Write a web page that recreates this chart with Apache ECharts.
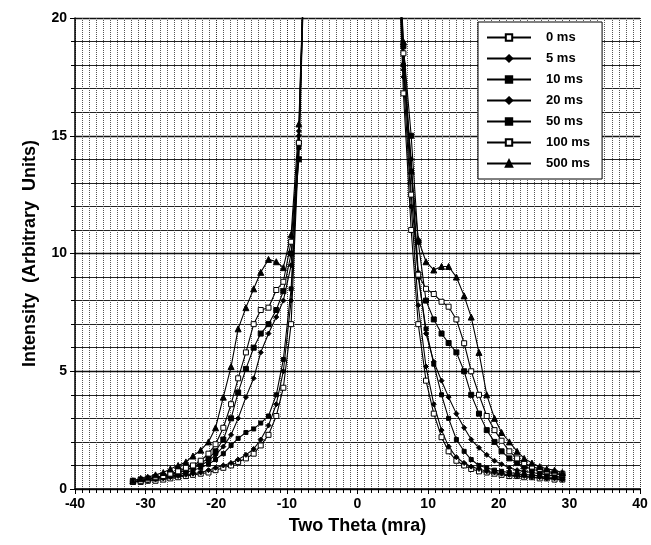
<!DOCTYPE html>
<html><head><meta charset="utf-8">
<script src="https://cdn.jsdelivr.net/npm/echarts@6/dist/echarts.min.js"></script>
<style>html,body{margin:0;padding:0;background:#fff}#c{width:651px;height:545px}</style>
</head><body><div id="c"></div>
<script>
// Two Theta positions (mra) of the measured points, left and right of the beam
const xLeft  = [-31.8,-30.7,-29.7,-28.6,-27.5,-26.5,-25.4,-24.3,-23.3,-22.2,-21.1,-20.1,-19.0,-17.9,-16.9,-15.8,-14.7,-13.7,-12.6,-11.5,-10.5,-9.4,-8.3,-7.2];
const xRight = [5.4,6.5,7.6,8.6,9.7,10.8,11.9,12.9,14.0,15.1,16.1,17.2,18.3,19.4,20.4,21.5,22.6,23.6,24.7,25.8,26.8,27.9,29.0];

const seriesNames = ['0 ms','5 ms','10 ms','20 ms','50 ms','100 ms','500 ms'];

// Intensities on the left side (matching xLeft)
const left0   = [0.3,0.3,0.35,0.35,0.4,0.45,0.5,0.55,0.6,0.65,0.7,0.8,0.9,1.0,1.15,1.3,1.5,1.85,2.3,3.1,4.3,7.0,14.7,26];
const left5   = [0.3,0.35,0.35,0.4,0.45,0.5,0.55,0.6,0.65,0.7,0.8,0.9,1.0,1.1,1.25,1.45,1.7,2.1,2.7,3.6,5.0,8.0,15.2,26];
const left10  = [0.3,0.35,0.4,0.45,0.5,0.55,0.6,0.7,0.8,0.9,1.05,1.25,1.5,1.85,2.15,2.4,2.55,2.8,3.1,4.0,5.5,8.5,14.5,26];
const left20  = [0.3,0.35,0.4,0.45,0.5,0.6,0.7,0.8,0.9,1.0,1.2,1.45,1.8,2.3,3.0,3.9,4.7,5.8,6.6,7.3,8.0,9.5,15.0,26];
const left50  = [0.35,0.4,0.45,0.5,0.55,0.6,0.7,0.8,0.95,1.1,1.3,1.6,2.1,3.0,4.1,5.1,6.0,6.6,7.0,7.6,8.4,10.0,14.0,26];
const left100 = [0.3,0.35,0.4,0.5,0.55,0.65,0.75,0.9,1.0,1.2,1.5,1.9,2.6,3.6,4.7,5.8,7.0,7.6,7.7,8.45,8.8,10.5,14.7,26];
const left500 = [0.35,0.45,0.5,0.6,0.7,0.85,1.0,1.15,1.4,1.65,2.0,2.6,3.9,5.2,6.8,7.7,8.5,9.2,9.75,9.65,9.4,10.8,15.5,26];

// Intensities on the right side (matching xRight)
const right0   = [26,16.8,11.0,7.0,4.6,3.2,2.2,1.6,1.2,1.0,0.85,0.75,0.7,0.65,0.6,0.55,0.55,0.5,0.5,0.45,0.45,0.4,0.4];
const right5   = [26,17.5,12.0,7.8,5.2,3.6,2.5,1.8,1.35,1.1,0.95,0.85,0.75,0.7,0.65,0.6,0.55,0.55,0.5,0.5,0.45,0.45,0.4];
const right10  = [26,18.0,13.5,9.0,6.8,5.3,4.0,3.0,2.1,1.6,1.25,1.0,0.9,0.8,0.75,0.7,0.65,0.6,0.6,0.55,0.5,0.5,0.45];
const right20  = [26,17.8,14.0,9.2,6.6,5.4,4.6,3.9,3.2,2.6,2.1,1.75,1.45,1.2,1.05,0.9,0.8,0.75,0.7,0.65,0.6,0.55,0.5];
const right50  = [26,18.8,15.0,10.5,8.0,7.2,6.6,6.2,5.8,5.0,4.0,3.2,2.5,2.0,1.6,1.3,1.1,0.95,0.85,0.75,0.7,0.65,0.6];
const right100 = [26,18.5,12.5,9.1,8.5,8.28,7.95,7.74,7.2,6.19,5.0,4.0,3.1,2.5,2.05,1.6,1.3,1.1,0.95,0.85,0.75,0.7,0.65];
const right500 = [26,19.0,13.5,10.6,9.65,9.3,9.45,9.45,9.0,8.2,7.3,5.8,4.0,3.0,2.4,2.0,1.6,1.3,1.1,0.95,0.85,0.8,0.7];

const leftData  = [left0,left5,left10,left20,left50,left100,left500];
const rightData = [right0,right5,right10,right20,right50,right100,right500];

const symbols = [
  {symbol:'rect', size:5, fill:'#fff'},
  {symbol:'diamond', size:5, fill:'#000'},
  {symbol:'rect', size:4, fill:'#000'},
  {symbol:'diamond', size:5, fill:'#000'},
  {symbol:'rect', size:5, fill:'#000'},
  {symbol:'rect', size:5, fill:'#fff'},
  {symbol:'triangle', size:6, fill:'#000'}
];

const FONT = 'Liberation Sans, Arial, sans-serif';

const series = seriesNames.map((name, k) => {
  const data = xLeft.map((x, i) => [x, leftData[k][i]])
    .concat([[0, '-']])
    .concat(xRight.map((x, i) => [x, rightData[k][i]]));
  return {
    name, type:'line', data,
    symbol: symbols[k].symbol, symbolSize: symbols[k].size,
    showSymbol:true, connectNulls:false, clip:true,
    lineStyle:{color:'#000', width:1.1},
    itemStyle:{color:symbols[k].fill, borderColor:'#000', borderWidth:1},
    emphasis:{disabled:true}, animation:false
  };
});

const chart = echarts.init(document.getElementById('c'), null, {renderer:'canvas'});
chart.setOption({
  animation:false,
  backgroundColor:'#fff',
  grid:{left:75, right:11, top:18, bottom:56, containLabel:false},
  xAxis:{
    type:'value', min:-40, max:40, interval:10,
    name:'Two Theta (mra)', nameLocation:'middle', nameGap:28,
    nameTextStyle:{fontFamily:FONT, fontWeight:'bold', fontSize:18, color:'#000'},
    axisLine:{show:true, onZero:false, lineStyle:{color:'#000', width:1.5}},
    axisTick:{show:true, length:5, lineStyle:{color:'#000'}},
    minorTick:{show:true, splitNumber:10, length:4, lineStyle:{color:'#000'}},
    axisLabel:{fontFamily:FONT, fontWeight:'bold', fontSize:14, color:'#000', margin:8},
    splitLine:{show:true, lineStyle:{color:'#333', type:'dotted', width:1}},
    minorSplitLine:{show:true, lineStyle:{color:'#555', type:'dotted', width:1}}
  },
  yAxis:{
    type:'value', min:0, max:20, interval:5,
    name:'Intensity  (Arbitrary  Units)', nameLocation:'middle', nameGap:36, nameRotate:90,
    nameTextStyle:{fontFamily:FONT, fontWeight:'bold', fontSize:18, color:'#000'},
    axisLine:{show:true, onZero:false, lineStyle:{color:'#000', width:1.5}},
    axisTick:{show:true, length:5, lineStyle:{color:'#000'}},
    minorTick:{show:true, splitNumber:5, length:4, lineStyle:{color:'#000'}},
    axisLabel:{fontFamily:FONT, fontWeight:'bold', fontSize:14, color:'#000', margin:8},
    splitLine:{show:true, lineStyle:{color:'#111', width:1.3}},
    minorSplitLine:{show:true, lineStyle:{color:'#222', width:1.1}}
  },
  legend:{
    show:true, orient:'vertical', left:478, top:22,
    padding:[9,12,9,8], itemGap:8, itemWidth:44, itemHeight:8,
    backgroundColor:'#fff', borderColor:'#000', borderWidth:1,
    textStyle:{fontFamily:FONT, fontWeight:'bold', fontSize:13, color:'#000', padding:[0,0,0,10]},
    data:seriesNames
  },
  series
});
</script>
</body></html>
